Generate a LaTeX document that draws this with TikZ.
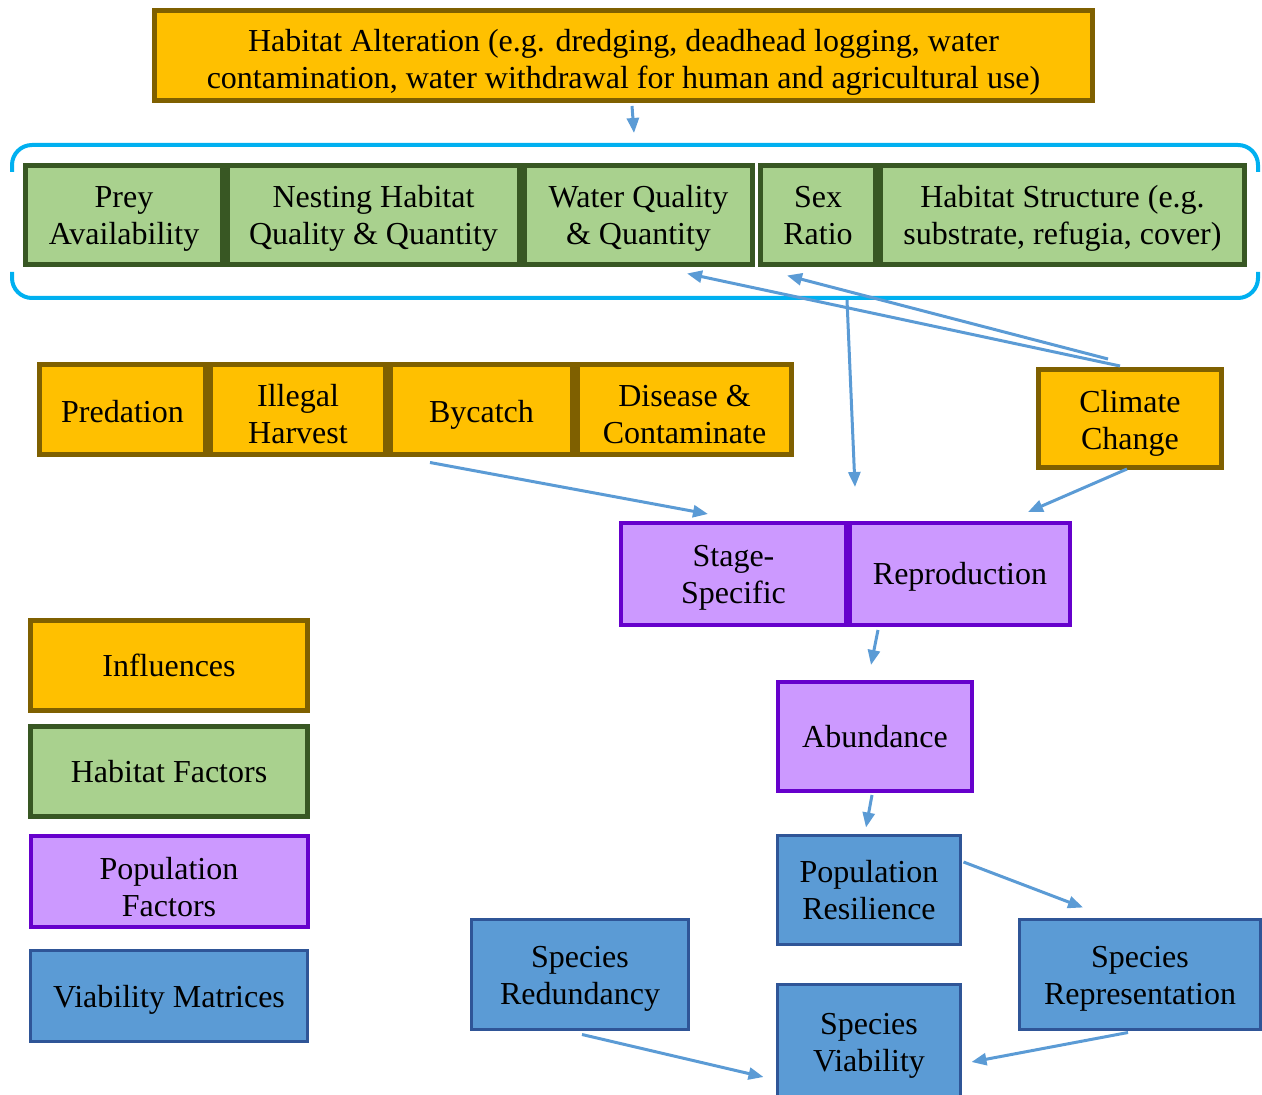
\documentclass[tikz,border=0pt]{standalone}
\usepackage{fontspec}
\setmainfont{Liberation Serif}
\usetikzlibrary{arrows.meta,calc}
\definecolor{inflfill}{HTML}{FFC000}
\definecolor{infldraw}{HTML}{7F6000}
\definecolor{habfill}{HTML}{A9D18E}
\definecolor{habdraw}{HTML}{385723}
\definecolor{popfill}{HTML}{CC99FF}
\definecolor{popdraw}{HTML}{6600CC}
\definecolor{viabfill}{HTML}{5B9BD5}
\definecolor{viabdraw}{HTML}{2F5597}
\definecolor{linkcol}{HTML}{5B9BD5}
\definecolor{bracecol}{HTML}{00B0F0}
\newcommand{\bx}[2][15pt]{\rule{0pt}{#1}#2\rule[-4pt]{0pt}{4pt}}

\begin{document}
\begin{tikzpicture}[x=0.5pt,y=-0.5pt,
    box/.style={draw,align=center,inner sep=0pt,
      font=\fontsize{16}{18.5}\selectfont},
    infl/.style={box,fill=inflfill,draw=infldraw,line width=2.5pt},
    hab/.style={box,fill=habfill,draw=habdraw,line width=2.5pt},
    pop/.style={box,fill=popfill,draw=popdraw,line width=2pt},
    viab/.style={box,fill=viabfill,draw=viabdraw,line width=1.5pt},
    link/.style={draw=linkcol,line width=1.5pt,
      -{Triangle[length=7.5pt,width=6pt]}}]
   \useasboundingbox (0,0) rectangle (1262,1095);
   \clip (0,0) rectangle (1262,1095);

   % influences
   \node[infl,minimum width=469pt,minimum height=45pt] (alter) at (623.5,55.5)
      {\bx[19pt]{Habitat Alteration (e.g. dredging, deadhead logging, water\\
       contamination, water withdrawal for human and agricultural use)}};

   % habitat factors
   \node[hab,minimum width=98.5pt,minimum height=49.5pt] (prey) at (124,215) {\bx{Prey\\Availability}};
   \node[hab,minimum width=146pt,minimum height=49.5pt] (nest) at (373.5,215) {\bx{Nesting Habitat\\Quality \& Quantity}};
   \node[hab,minimum width=114pt,minimum height=49.5pt] (water) at (638.5,215) {\bx{Water Quality\\\& Quantity}};
   \node[hab,minimum width=57.5pt,minimum height=49.5pt] (sex) at (818,215) {\bx{Sex\\Ratio}};
   \node[hab,minimum width=182pt,minimum height=49.5pt] (struct) at (1062.5,215) {\bx{Habitat Structure (e.g.\\substrate, refugia, cover)}};

   % bracket round the habitat row
   \draw[bracecol,line width=2pt,rounded corners=10pt]
      (12,172) -- (12,145) -- (1258,145) -- (1258,172);
   \draw[bracecol,line width=2pt,rounded corners=10pt]
      (12,272) -- (12,298) -- (1258,298) -- (1258,272);

   \node[infl,minimum width=83pt,minimum height=45pt] (pred) at (122.5,409.5) {\bx[17pt]{Predation}};
   \node[infl,minimum width=87.5pt,minimum height=45pt] (illegal) at (298,409.5) {\bx[20pt]{Illegal\\Harvest}};
   \node[infl,minimum width=91pt,minimum height=45pt] (bycatch) at (481.5,409.5) {\bx[17pt]{Bycatch}};
   \node[infl,minimum width=107pt,minimum height=45pt] (disease) at (684.5,409.5) {\bx[20pt]{Disease \&\\Contaminate}};
   \node[infl,minimum width=91.5pt,minimum height=49pt] (climate) at (1130,418.5) {\bx[17pt]{Climate\\Change}};

   % population factors
   \node[pop,minimum width=112.5pt,minimum height=51pt] (stage) at (733.5,574) {\bx{Stage-\\Specific}};
   \node[pop,minimum width=110pt,minimum height=51pt] (repro) at (960,574) {\bx{Reproduction}};
   \node[pop,minimum width=97pt,minimum height=54.5pt] (abund) at (875,736.5) {\bx{Abundance}};

   % viability
   \node[viab,minimum width=91.5pt,minimum height=54.5pt] (resil) at (869,890) {\bx{Population\\Resilience}};
   \node[viab,minimum width=108.5pt,minimum height=55pt] (redund) at (580,974.5) {\bx{Species\\Redundancy}};
   \node[viab,minimum width=91.5pt,minimum height=57pt] (viabil) at (869,1041.5) {\bx{Species\\Viability}};
   \node[viab,minimum width=120.5pt,minimum height=55pt] (repres) at (1140,974.5) {\bx{Species\\Representation}};

   % legend
   \node[infl,minimum width=138.5pt,minimum height=45pt] (leginfl) at (169,665.5) {\bx{Influences}};
   \node[hab,minimum width=138.5pt,minimum height=45pt] (leghab) at (169,771.5) {\bx{Habitat Factors}};
   \node[pop,minimum width=138.5pt,minimum height=45.5pt] (legpop) at (169,881.5) {\bx[20pt]{Population\\Factors}};
   \node[viab,minimum width=138.5pt,minimum height=45.5pt] (legviab) at (169,996) {\bx{Viability Matrices}};

   \coordinate (bracein) at (634,133);
   \coordinate (braceout) at (847,300);
   \coordinate (popin) at (855,487);

   \path[link] ($(alter.south)+(8.5,3)$) -- (bracein);
   \path[link] ($(climate.north)+(-10,-1)$) -- ($(water.south)+(48.5,6.5)$);
   \path[link] ($(climate.north)+(-22,-8)$) -- ($(sex.south)+(-31,8.5)$);
   \path[link] (braceout) -- (popin);
   \path[link] ($(bycatch.south)+(-51.5,5.5)$) -- ($(stage.north)+(-25.5,-7)$);
   \path[link] ($(climate.south)+(-3,-1)$) -- ($(repro.north)+(68,-9)$);
   \path[link] ($(repro.south)+(-82,3)$) -- ($(abund.north)+(-4,-15)$);
   \path[link] ($(abund.south)+(-3,2)$) -- ($(resil.north)+(-3,-6.5)$);
   \path[link] ($(resil.east)+(1.5,-28)$) -- ($(repres.north)+(-57,-10.5)$);
   \path[link] ($(redund.south)+(2,3.5)$) -- ($(viabil.west)+(-12.5,35.5)$);
   \path[link] ($(repres.south)+(-12,1.5)$) -- ($(viabil.east)+(9.5,20.5)$);
\end{tikzpicture}
\end{document}
